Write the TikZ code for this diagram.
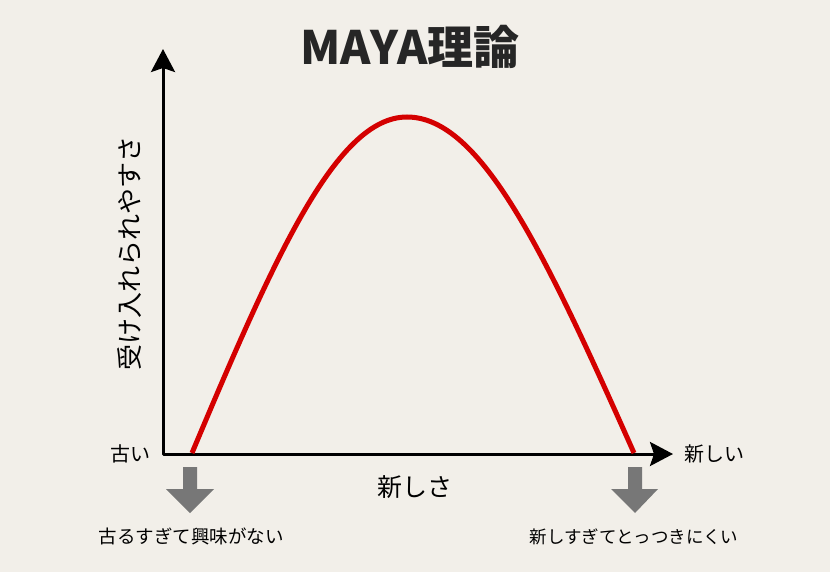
\documentclass[tikz,border=0pt]{standalone}
\usepackage{fontspec}
\setmainfont{Noto Sans CJK JP}
\newfontfamily\jp{Noto Sans CJK JP}
\usetikzlibrary{arrows.meta}
\definecolor{bg}{RGB}{242,239,233}
\definecolor{curvered}{RGB}{212,0,0}
\definecolor{arrowgray}{RGB}{119,119,119}
\definecolor{titlegray}{RGB}{38,38,38}
\tikzset{
  lbl/.style={inner sep=0pt, text=black, font=\jp\fontsize{#1}{#1}\selectfont},
  axisline/.style={line width=3pt, line join=round, black},
  redcurve/.style={line width=5pt, curvered},
  downarrow/.style={fill=arrowgray, draw=none},
}
\begin{document}
\begin{tikzpicture}[x=1pt,y=-1pt]
\fill[bg] (0,0) rectangle (830,572);
\useasboundingbox (0,0) rectangle (830,572);
% title
\node[inner sep=0pt, text=titlegray, font=\jp\bfseries\fontsize{46}{46}\selectfont] (title) at (410,47) {MAYA理論};
% axes
\coordinate (O) at (163,454);
\coordinate (ytip) at (163,49);
\coordinate (xtip) at (673,454);
\draw[axisline, {Stealth[length=23pt,width=24pt,inset=4pt]}-{Stealth[length=23pt,width=24pt,inset=4pt]}] (ytip) -- (O) -- (xtip);
% curve
\coordinate (c0) at (192,453);
\coordinate (cpk) at (407,117);
\coordinate (c1) at (634,453);
\draw[redcurve] (c0) .. controls (276,253) and (337,117) .. (cpk)
  .. controls (481,117) and (545,253) .. (c1);
% labels
\node[lbl=20] (old) at (130,454) {古い};
\node[lbl=20] (new) at (714,454) {新しい};
\node[lbl=25] (xlab) at (415,487) {新しさ};
\node[lbl=26, rotate=90] (ylab) at (130,253) {受け入れられやすさ};
% gray arrows
\fill[downarrow] (183,467) -- (197,467) -- (197,489) -- (214,489) -- (190,513) -- (166,489) -- (183,489) -- cycle;
\fill[downarrow] (628,467) -- (642,467) -- (642,489) -- (658,489) -- (635,513) -- (611,489) -- (628,489) -- cycle;
\node[lbl=18.5] (oldtxt) at (191,536) {古るすぎて興味がない};
\node[lbl=17.5] (newtxt) at (634,537) {新しすぎてとっつきにくい};
\end{tikzpicture}
\end{document}
